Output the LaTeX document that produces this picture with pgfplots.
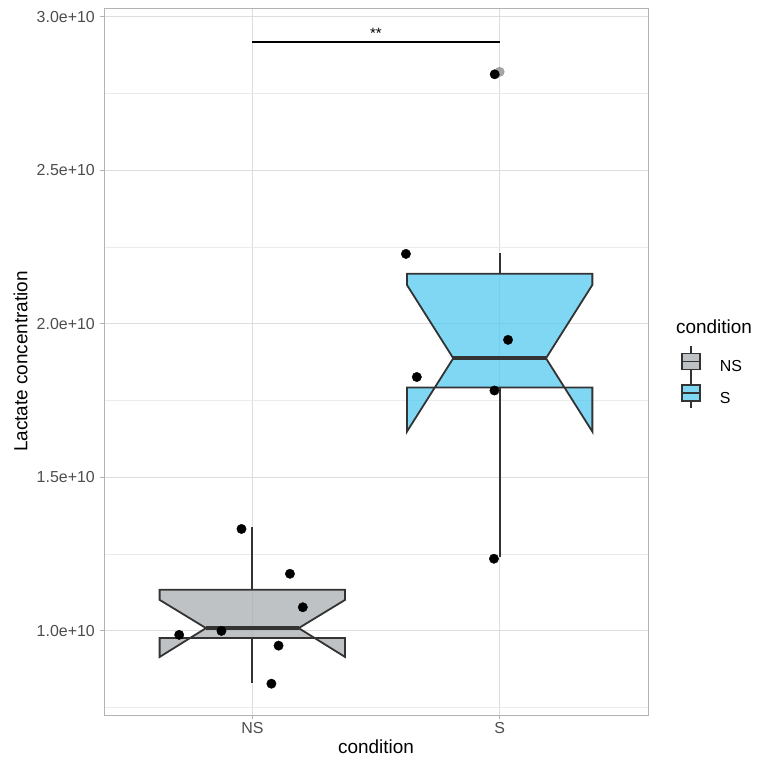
\documentclass[border=0pt]{standalone}
\usepackage{pgfplots}
\pgfplotsset{compat=1.18}
\usepackage{fontspec}
\setmainfont{Liberation Sans}
\definecolor{edge}{HTML}{333333}
\definecolor{grey30}{HTML}{4D4D4D}
\definecolor{grey70}{HTML}{B3B3B3}
\definecolor{grid87}{HTML}{DEDEDE}
\definecolor{gridmin}{HTML}{EBEBEB}
\definecolor{nsfill}{RGB}{162,168,171}
\definecolor{sfill}{RGB}{72,198,239}
\definecolor{nskey}{RGB}{190,194,196}
\definecolor{skey}{RGB}{127,215,244}
\begin{document}
\begin{tikzpicture}
\begin{axis}[
  name=ax,
  width=544bp, height=707bp, scale only axis,
  xmin=0.4, xmax=2.6,
  ymin=0.726e10, ymax=3.029e10,
  xtick={1,2}, xticklabels={NS,S},
  ytick={1e10,1.5e10,2e10,2.5e10,3e10},
  yticklabels={1.0e+10,1.5e+10,2.0e+10,2.5e+10,3.0e+10},
  minor ytick={0.75e10,1.25e10,1.75e10,2.25e10,2.75e10},
  scaled y ticks=false,
  xmajorgrids, ymajorgrids, yminorgrids,
  major grid style={color=grid87, line width=0.8bp},
  minor grid style={color=gridmin, line width=0.6bp},
  axis line style={color=grey70, line width=0.9bp},
  major tick style={color=grey70, line width=0.9bp},
  major tick length=4bp, minor tick length=0pt, tick align=outside,
  xtick pos=bottom, ytick pos=left,
  ticklabel style={font=\fontsize{16}{19}\selectfont, text=grey30},
  xticklabel style={inner sep=0pt, yshift=-3bp},
  yticklabel style={inner sep=0pt, xshift=-5bp},
  xlabel={condition}, ylabel={Lactate concentration},
  every axis x label/.style={at={(axis description cs:0.5,-0.035)}, anchor=north,
    font=\fontsize{19}{22}\selectfont, inner sep=0pt},
  every axis y label/.style={at={(axis description cs:-0.14,0.5)}, anchor=south, rotate=90,
    font=\fontsize{19}{22}\selectfont, inner sep=0pt},
  legend style={at={(axis description cs:1.0607,0.523)}, anchor=north west,
    draw=none, fill=none, inner sep=0pt, row sep=-1bp, column sep=0pt,
    font=\fontsize{16}{19}\selectfont, nodes={inner sep=0pt}},
  legend cell align=left,
]
% legend entries
\addlegendimage{legend image code/.code={
  \draw[edge, line width=1.3bp] (9bp,-10bp) -- (9bp,21bp);
  \draw[fill=nskey, draw=edge, line width=1.4bp] (0bp,-2.5bp) rectangle (18bp,13.5bp);
  \draw[edge, line width=1.4bp] (0bp,5.5bp) -- (18bp,5.5bp);
  \path[draw=none, fill=none] (0bp,0bp) -- (38bp,0bp);
}}
\addlegendentry{NS}
\addlegendimage{legend image code/.code={
  \draw[edge, line width=1.3bp] (9bp,-10bp) -- (9bp,21bp);
  \draw[fill=skey, draw=edge, line width=1.4bp] (0bp,-2.5bp) rectangle (18bp,13.5bp);
  \draw[edge, line width=1.4bp] (0bp,5.5bp) -- (18bp,5.5bp);
  \path[draw=none, fill=none] (0bp,0bp) -- (38bp,0bp);
}}
\addlegendentry{S}
% whiskers
\addplot[forget plot, edge, line width=2bp] coordinates {(1,1.134e10) (1,1.339e10)};
\addplot[forget plot, edge, line width=2bp] coordinates {(1,0.977e10) (1,0.831e10)};
\addplot[forget plot, edge, line width=2bp] coordinates {(2,2.163e10) (2,2.232e10)};
\addplot[forget plot, edge, line width=2bp] coordinates {(2,1.7925e10) (2,1.241e10)};
% notched boxes
\addplot[forget plot, draw=edge, line width=1.8bp, fill=nsfill, fill opacity=0.7] coordinates {
 (0.625,1.134e10) (1.375,1.134e10) (1.375,1.101e10) (1.1875,1.009e10) (1.375,0.915e10)
 (1.375,0.977e10) (0.625,0.977e10) (0.625,0.915e10) (0.8125,1.009e10) (0.625,1.101e10)} -- cycle;
\addplot[forget plot, draw=edge, line width=1.8bp, fill=sfill, fill opacity=0.7] coordinates {
 (1.625,2.163e10) (2.375,2.163e10) (2.375,2.127e10) (2.1875,1.888e10) (2.375,1.649e10)
 (2.375,1.7925e10) (1.625,1.7925e10) (1.625,1.649e10) (1.8125,1.888e10) (1.625,2.127e10)} -- cycle;
% medians
\addplot[forget plot, edge, line width=3.8bp] coordinates {(0.8125,1.009e10) (1.1875,1.009e10)};
\addplot[forget plot, edge, line width=3.8bp] coordinates {(1.8125,1.888e10) (2.1875,1.888e10)};
% outlier
\addplot[forget plot, only marks, mark=*, mark size=4.7bp, color=gray, opacity=0.7] coordinates {(2,2.821e10)};
% jittered points
\addplot[forget plot, only marks, mark=*, mark size=4.7bp, black] coordinates {
 (0.956,1.332e10) (1.152,1.186e10) (1.204,1.077e10) (0.704,0.987e10)
 (0.875,1.000e10) (1.106,0.952e10) (1.077,0.828e10)};
\addplot[forget plot, only marks, mark=*, mark size=4.7bp, black] coordinates {
 (1.621,2.228e10) (2.034,1.948e10) (1.665,1.827e10) (1.979,1.783e10)
 (1.977,1.235e10) (1.980,2.813e10)};
% significance
\addplot[forget plot, black, line width=1.6bp] coordinates {(1,2.919e10) (2,2.919e10)};
\node[anchor=base, font=\fontsize{15}{18}\selectfont, inner sep=0pt, yshift=3.4bp] at (axis cs:1.5,2.919e10) {**};
\end{axis}
\path (ax.south east) ++(28bp,388bp) node[anchor=west, inner sep=0pt, font=\fontsize{19}{22}\selectfont] {condition};
\pgfresetboundingbox
\path[use as bounding box] ([shift={(-104bp,-50bp)}]ax.south west) rectangle ([shift={(111bp,8bp)}]ax.north east);
\end{tikzpicture}
\end{document}
